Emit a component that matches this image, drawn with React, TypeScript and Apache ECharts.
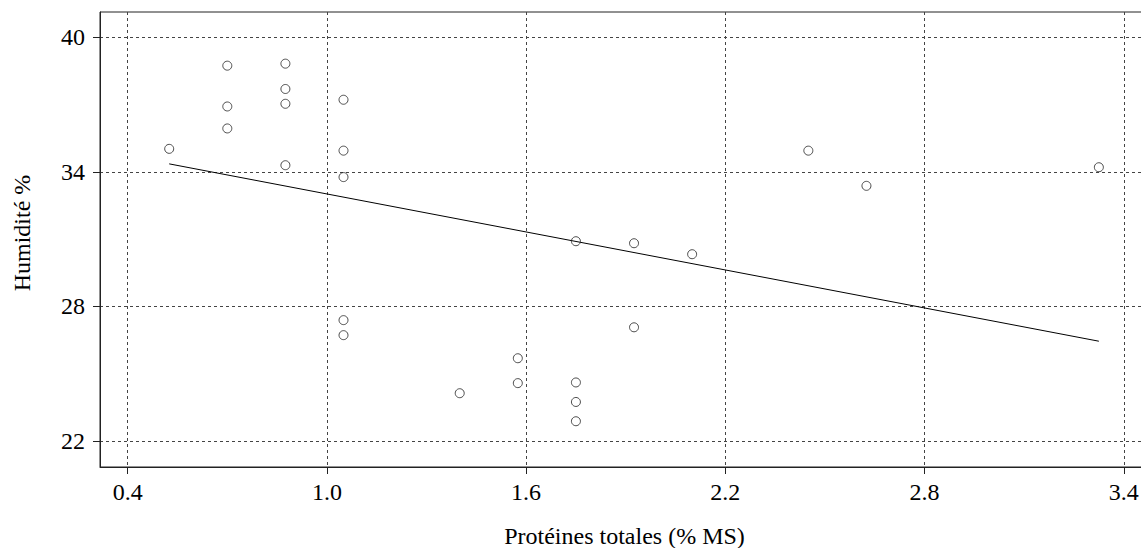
import React, { useEffect, useRef } from "react";
import * as echarts from "echarts";

// Protéines totales (% MS) for each observation
const proteinX = [
  0.525, 0.7, 0.7, 0.7, 0.875, 0.875, 0.875, 0.875, 1.05, 1.05, 1.05, 1.05, 1.05,
  1.4, 1.575, 1.575, 1.75, 1.75, 1.75, 1.75, 1.925, 1.925, 2.1, 2.45, 2.625, 3.325,
];
// Humidité % for each observation
const humidityY = [
  35.03, 38.74, 36.92, 35.94, 38.83, 37.7, 37.04, 34.3, 37.22, 34.95, 33.77, 27.39, 26.72,
  24.13, 25.69, 24.58, 30.91, 24.61, 23.74, 22.88, 30.82, 27.07, 30.33, 34.95, 33.38, 34.21,
];
// Regression line end points
const fitX = [0.525, 3.325];
const fitY = [34.36, 26.45];

const xTicks = [0.4, 1.0, 1.6, 2.2, 2.8, 3.4];
const yTicks = [22, 28, 34, 40];

const FONT = "Liberation Serif";

export default function App() {
  const ref = useRef<HTMLDivElement>(null);

  useEffect(() => {
    if (!ref.current) return;
    const chart = echarts.init(ref.current, undefined, { renderer: "svg" });
    const points = proteinX.map((x, i) => [x, humidityY[i]]);
    const fit = fitX.map((x, i) => [x, fitY[i]]);
    const axisColor = "#222";
    const gridLine = { show: true, lineStyle: { color: "#444", width: 1, type: [3, 3] as any } };

    chart.setOption({
      animation: false,
      backgroundColor: "#fff",
      textStyle: { fontFamily: FONT },
      grid: {
        left: 100,
        top: 12,
        right: 0,
        bottom: 81,
        containLabel: false,
        outerBoundsMode: "none",
        show: true,
        borderColor: axisColor,
        borderWidth: 1,
        backgroundColor: "transparent",
      },
      xAxis: {
        type: "value",
        min: 0.3166,
        max: 3.476,
        name: "Protéines totales (% MS)",
        nameLocation: "middle",
        nameGap: 57,
        nameTextStyle: { fontFamily: FONT, fontSize: 24, color: "#000" },
        axisLine: { show: true, onZero: false, lineStyle: { color: axisColor, width: 1 } },
        axisTick: { show: true, customValues: xTicks, length: 7, lineStyle: { color: axisColor } },
        axisLabel: {
          customValues: xTicks,
          formatter: (v: number) => v.toFixed(1),
          fontFamily: FONT,
          fontSize: 24,
          color: "#000",
          margin: 13,
        },
        splitLine: gridLine,
      },
      yAxis: {
        type: "value",
        min: 20.839,
        max: 41.134,
        axisLine: { show: true, onZero: false, lineStyle: { color: axisColor, width: 1 } },
        axisTick: { show: true, customValues: yTicks, length: 7, lineStyle: { color: axisColor } },
        axisLabel: {
          customValues: yTicks,
          formatter: (v: number) => String(Math.round(v)),
          fontFamily: FONT,
          fontSize: 24,
          color: "#000",
          margin: 15,
        },
        splitLine: gridLine,
      },
      graphic: [
        {
          type: "text",
          x: 22,
          y: 233,
          rotation: Math.PI / 2,
          style: {
            text: "Humidité %",
            font: `24px ${FONT}`,
            fill: "#000",
            align: "center",
            verticalAlign: "middle",
          },
        },
      ],
      series: [
        {
          type: "line",
          data: fit,
          showSymbol: false,
          symbol: "none",
          lineStyle: { color: "#000", width: 1 },
          silent: true,
          z: 2,
        },
        {
          type: "scatter",
          data: points,
          symbol: "circle",
          symbolSize: 9,
          itemStyle: { color: "transparent", borderColor: "#222", borderWidth: 1 },
          z: 3,
        },
      ],
    });
    return () => chart.dispose();
  }, []);

  return (
    <div
      style={{
        position: "absolute",
        left: 0,
        top: 0,
        width: 1141,
        height: 548,
        overflow: "hidden",
        background: "#fff",
      }}
    >
      <div ref={ref} style={{ width: 1149, height: 548 }} />
    </div>
  );
}
